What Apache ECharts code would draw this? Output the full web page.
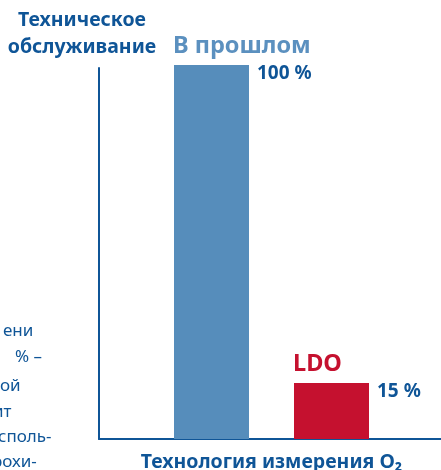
<!DOCTYPE html>
<html>
<head>
<meta charset="utf-8">
<script src="https://cdn.jsdelivr.net/npm/echarts@6/dist/echarts.min.js"></script>
<style>
html,body{margin:0;padding:0;background:#fff;}
#chart{width:441px;height:470px;}
</style>
</head>
<body>
<div id="chart"></div>
<script>
const seriesNames = ['В прошлом', 'LDO'];
const seriesValues = [100, 15];
const categories = [''];
const titleText = 'Техническое\nобслуживание';
const xAxisName = 'Технология измерения O₂';
const sideFragments = ['ени', '% –', 'ой', 'ит', 'споль-', 'рохи-'];

const DARK = '#0f5597';
const BLUE = '#568dbb';
const LIGHT = '#5b90bf';
const RED = '#c5112f';
const FONT = '"Noto Sans", sans-serif';

const barColors = [BLUE, RED];
const nameColors = [LIGHT, RED];

const fragX = [3, 15, 0, -7, -2, -8];
const fragY = [331, 357, 386, 412, 437, 462];

const chart = echarts.init(document.getElementById('chart'), null, {renderer: 'canvas'});

const option = {
  backgroundColor: '#fff',
  animation: false,
  textStyle: {fontFamily: FONT},
  title: {
    text: titleText,
    left: 82,
    top: 7,
    padding: 0,
    textAlign: 'center',
    textStyle: {fontFamily: FONT, fontSize: 19.5, fontWeight: 'bold', color: DARK, lineHeight: 27}
  },
  grid: {left: 99, right: -3, top: 68, bottom: 31, containLabel: false, outerBoundsMode: 'none'},
  xAxis: {
    type: 'category',
    data: categories,
    axisLine: {show: true, lineStyle: {color: DARK, width: 2}},
    axisTick: {show: false},
    axisLabel: {show: false},
    splitLine: {show: false},
    name: xAxisName,
    nameLocation: 'middle',
    nameGap: 13,
    nameTextStyle: {fontFamily: FONT, fontSize: 19.5, fontWeight: 'bold', color: DARK}
  },
  yAxis: {
    type: 'value',
    min: 0,
    max: 99.2,
    axisLine: {show: true, lineStyle: {color: DARK, width: 2}},
    axisTick: {show: false},
    axisLabel: {show: false},
    splitLine: {show: false}
  },
  series: seriesNames.map((name, i) => ({
    type: 'bar',
    name: name,
    data: [seriesValues[i]],
    barWidth: 75,
    barGap: '60%',
    clip: false,
    itemStyle: {color: barColors[i]},
    label: {
      show: true,
      position: [-1, -32],
      align: 'left',
      verticalAlign: 'top',
      formatter: '{n|{a}}\n{v|{c} %}',
      rich: {
        n: {fontFamily: FONT, fontSize: 23.5, fontWeight: 'bold', color: nameColors[i], lineHeight: 26},
        v: {fontFamily: FONT, fontSize: 19, fontWeight: 'bold', color: DARK, lineHeight: 30, padding: [0, 0, 0, 84]}
      }
    }
  })),
  graphic: sideFragments.map((t, i) => ({
    type: 'text',
    x: fragX[i],
    y: fragY[i],
    style: {text: t, font: '17px "Noto Sans", sans-serif', fill: DARK, verticalAlign: 'middle', align: 'left'}
  }))
};

chart.setOption(option);
</script>
</body>
</html>
